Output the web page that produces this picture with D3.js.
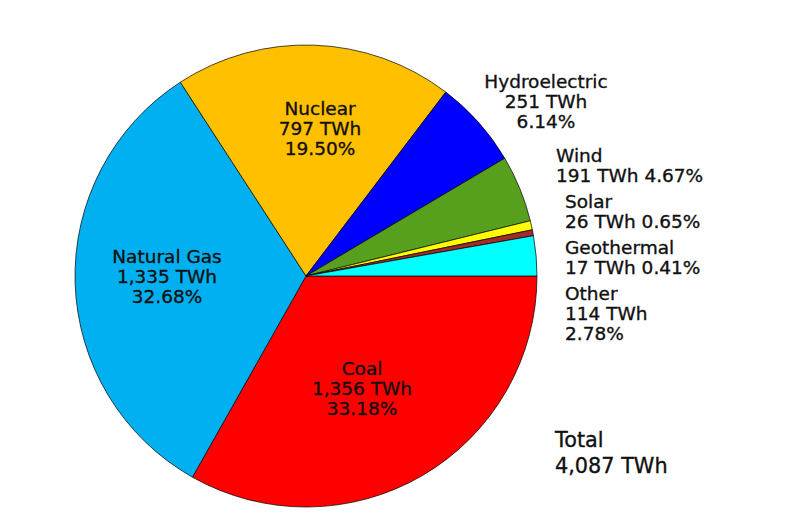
<!DOCTYPE html>
<html>
<head>
<meta charset="utf-8">
<script src="https://cdn.jsdelivr.net/npm/d3@7"></script>
<style>
  html, body { margin: 0; padding: 0; background: #fff; }
  text { font-family: "DejaVu Sans", sans-serif; fill: #111; stroke: #111; stroke-width: 0.35px; font-kerning: normal; }
</style>
</head>
<body>
<div id="chart"></div>
<script>
// US electricity generation by source
var sources = ["Coal", "Natural Gas", "Nuclear", "Hydroelectric", "Wind", "Solar", "Geothermal", "Other"];
var twh = [1356, 1335, 797, 251, 191, 26, 17, 114];
var shares = ["33.18%", "32.68%", "19.50%", "6.14%", "4.67%", "0.65%", "0.41%", "2.78%"];
var colors = ["#ff0000", "#00b0f0", "#ffc000", "#0000ff", "#56a01e", "#ffff00", "#a52a2a", "#00ffff"];
var totalLabel = "4,087 TWh";

var svgWidth = 803;
var svgHeight = 531;

var cx = 306, cy = 276, radius = 231;
var fontSize = 18.5, lineGap = 20;
var fmt = d3.format(",");

// label layout: first baseline relative to the pie centre, plus how lines break
var labelLayout = [
    { dx: 56, dy: 99, anchor: "middle", lines: d => [d.name, fmt(d.value) + " TWh", d.pct] },
    { dx: -139, dy: -13, anchor: "middle", lines: d => [d.name, fmt(d.value) + " TWh", d.pct] },
    { dx: 14, dy: -161, anchor: "middle", lines: d => [d.name, fmt(d.value) + " TWh", d.pct] },
    { dx: 240, dy: -188, anchor: "middle", lines: d => [d.name, fmt(d.value) + " TWh", d.pct] },
    { dx: 250, dy: -114, anchor: "start", lines: d => [d.name, fmt(d.value) + " TWh " + d.pct] },
    { dx: 259, dy: -68, anchor: "start", lines: d => [d.name, fmt(d.value) + " TWh " + d.pct] },
    { dx: 259, dy: -22, anchor: "start", lines: d => [d.name, fmt(d.value) + " TWh " + d.pct] },
    { dx: 259, dy: 24, anchor: "start", lines: d => [d.name, fmt(d.value) + " TWh", d.pct] }
];

var data = sources.map(function(s, i) {
    return { name: s, value: twh[i], pct: shares[i], color: colors[i], layout: labelLayout[i] };
});

var svg = d3.select("#chart")
    .append("svg")
    .attr("width", svgWidth)
    .attr("height", svgHeight);

var pieGroup = svg.append("g")
    .attr("transform", `translate(${cx}, ${cy})`);

// start at 3 o'clock and go clockwise
var pie = d3.pie()
    .sort(null)
    .value(d => d.value)
    .startAngle(Math.PI / 2)
    .endAngle(Math.PI / 2 + 2 * Math.PI);

var arc = d3.arc()
    .innerRadius(0)
    .outerRadius(radius);

pieGroup.selectAll("path")
    .data(pie(data))
    .enter()
    .append("path")
    .attr("d", arc)
    .attr("fill", d => d.data.color)
    .attr("stroke", "#000")
    .attr("stroke-width", 0.7)
    .attr("stroke-linejoin", "round");

// slice labels
pieGroup.selectAll("text.slice")
    .data(data)
    .enter()
    .append("text")
    .attr("class", "slice")
    .attr("text-anchor", d => d.layout.anchor)
    .style("font-size", fontSize + "px")
    .each(function(d) {
        var t = d3.select(this);
        d.layout.lines(d).forEach(function(line, j) {
            t.append("tspan")
                .attr("x", d.layout.dx)
                .attr("y", d.layout.dy + j * lineGap)
                .text(line);
        });
    });

// total
var totalText = svg.append("text")
    .style("font-size", "20.8px");
totalText.append("tspan")
    .attr("x", 555)
    .attr("y", 447)
    .text("Total");
totalText.append("tspan")
    .attr("x", 555)
    .attr("y", 473)
    .text(totalLabel);
</script>
</body>
</html>
